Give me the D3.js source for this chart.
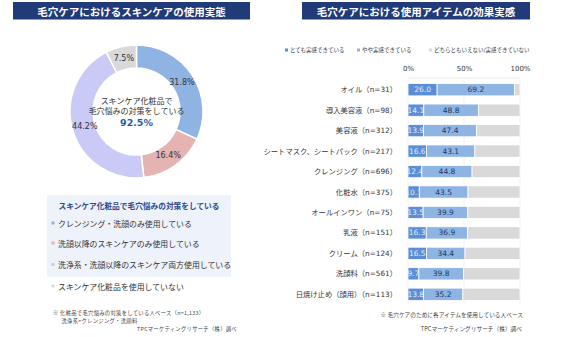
<!DOCTYPE html>
<html><head><meta charset="utf-8">
<script src="https://cdn.jsdelivr.net/npm/d3@7"></script>
<style>body{margin:0;background:#fff}svg{display:block}</style>
</head><body>
<svg id="c" width="580" height="337"></svg>
<script>
// ---- data ----
const leftTitle = "毛穴ケアにおけるスキンケアの使用実態";
const rightTitle = "毛穴ケアにおける使用アイテムの効果実感";
const pieCats = ["クレンジング・洗顔のみ使用している","洗顔以降のスキンケアのみ使用している","洗浄系・洗顔以降のスキンケア両方使用している","スキンケア化粧品を使用していない"];
const pieVals = [31.8,16.4,44.2,7.5];
const pieColors = ["#8fb4e3","#e6b3b3","#cacaf6","#d9d9d9"];
const centerText = ["スキンケア化粧品で","毛穴悩みの対策をしている","92.5%"];
const legendBoxTitle = "スキンケア化粧品で毛穴悩みの対策をしている";
const leftNotes = ["※ 化粧品で毛穴悩みの対策をしている人ベース（n=1,133）","洗浄系=クレンジング・洗顔料","TPCマーケティングリサーチ（株）調べ"];

const items = ["オイル（n=31）","導入美容液（n=98）","美容液（n=312）","シートマスク、シートパック（n=217）","クレンジング（n=696）","化粧水（n=375）","オールインワン（n=75）","乳液（n=151）","クリーム（n=124）","洗顔料（n=561）","日焼け止め（顔用）（n=113）"];
const veryMuch = [26.0,14.1,13.9,16.6,12.4,10.1,13.5,16.3,16.5,9.7,13.8];
const somewhat = [69.2,48.8,47.4,43.1,44.8,43.5,39.9,36.9,34.4,39.8,35.2];
const barSeries = ["とても実感できている","やや実感できている","どちらともいえない/実感できていない"];
const barColors = ["#5b8ed6","#8db4e2","#d9d9d9"];
const xTicks = [0,50,100];
const rightNotes = ["※ 毛穴ケアのために各アイテムを使用している人ベース","TPCマーケティングリサーチ（株）調べ"];

const JP = "'Noto Sans CJK JP', sans-serif";
const NUM = "'DejaVu Sans', 'Noto Sans CJK JP', sans-serif";
const NAVY = "#213a78";

const svg = d3.select("#c");

// ---- titles ----
function titleBox(x0, x1, y0, y1, txt){
  svg.append("rect").attr("x",x0).attr("y",y0).attr("width",x1-x0).attr("height",y1-y0).attr("fill",NAVY);
  svg.append("text").attr("x",(x0+x1)/2).attr("y",(y0+y1)/2+0.5).attr("text-anchor","middle")
    .attr("dominant-baseline","central").attr("fill","#fff").attr("font-family",JP)
    .attr("font-weight","bold").attr("font-size",10.5).text(txt);
}
titleBox(13, 250, 2, 19.5, leftTitle);
titleBox(302, 530, 2, 19.5, rightTitle);

// ---- donut ----
const cx = 136.5, cy = 111.5, rOut = 66.5, rIn = 43.5;
const pie = d3.pie().sort(null).value(d=>d)(pieVals);
const arc = d3.arc().innerRadius(rIn).outerRadius(rOut);
const labelArc = d3.arc().innerRadius(54).outerRadius(54);
const g = svg.append("g").attr("transform",`translate(${cx},${cy})`);
g.selectAll("path").data(pie).join("path").attr("d",arc)
  .attr("fill",(d,i)=>pieColors[i]).attr("stroke","#fff").attr("stroke-width",1.5);
g.selectAll("text.pl").data(pie).join("text").attr("class","pl")
  .attr("transform",d=>`translate(${labelArc.centroid(d)})`)
  .attr("text-anchor","middle").attr("dominant-baseline","central")
  .attr("font-family",NUM).attr("font-size",8).attr("fill","#333")
  .text(d=>d3.format(".1f")(d.data)+"%");
g.append("text").attr("y",-11).attr("text-anchor","middle").attr("dominant-baseline","central")
  .attr("font-family",JP).attr("font-size",8).attr("fill","#333").text(centerText[0]);
g.append("text").attr("y",-1).attr("text-anchor","middle").attr("dominant-baseline","central")
  .attr("font-family",JP).attr("font-size",8).attr("fill","#333").text(centerText[1]);
g.append("text").attr("y",11).attr("text-anchor","middle").attr("dominant-baseline","central")
  .attr("font-family",NUM).attr("font-weight","bold").attr("font-size",9.5).attr("fill","#2e5aa0").text(centerText[2]);

// ---- left legend ----
svg.append("rect").attr("x",47).attr("y",195).attr("width",184).attr("height",82).attr("fill","#eef2fa");
svg.append("text").attr("x",139).attr("y",205.5).attr("text-anchor","middle").attr("dominant-baseline","central")
  .attr("font-family",JP).attr("font-weight","bold").attr("font-size",7.7).attr("fill","#2f4a8a").text(legendBoxTitle);
const legY = [223,243,264.5,286];
pieCats.forEach((c,i)=>{
  svg.append("rect").attr("x",51.5).attr("y",legY[i]-1.5).attr("width",3).attr("height",3).attr("fill",pieColors[i]);
  svg.append("text").attr("x",58).attr("y",legY[i]).attr("dominant-baseline","central")
    .attr("font-family",JP).attr("font-size",7.9).attr("fill","#333").text(c);
});
const lnX = [53,61.5,137], lnY = [313,321,329];
leftNotes.forEach((t,i)=>{
  svg.append("text").attr("x",lnX[i]).attr("y",lnY[i]).attr("dominant-baseline","central")
    .attr("font-family",JP).attr("font-size",5.3).attr("letter-spacing",0.3).attr("fill","#444").text(t);
});

// ---- right bar chart ----
const x = d3.scaleLinear().domain([0,100]).range([408,520]);
const y = d3.scaleBand().domain(items).range([79.5,304.5]).paddingInner(0.4).paddingOuter(0.2);
const rows = items.map((it,i)=>{
  const a = veryMuch[i], b = somewhat[i];
  return {it, segs:[[0,a,a],[a,a+b,b],[a+b,100,null]]};
});
// gridlines
const grid = svg.append("g");
grid.append("line").attr("x1",x(0)).attr("x2",x(100)).attr("y1",78).attr("y2",78).attr("stroke","#e4e4e4").attr("stroke-width",0.8);
xTicks.forEach(t=>{
  grid.append("line").attr("x1",x(t)).attr("x2",x(t)).attr("y1",78).attr("y2",305).attr("stroke","#ececec").attr("stroke-width",0.8);
});
// axis labels
const ax = d3.axisTop(x).tickValues(xTicks).tickFormat(d=>d+"%").tickSize(0);
const axG = svg.append("g").attr("transform","translate(0,74)").call(ax);
axG.select(".domain").remove();
axG.selectAll("text").attr("font-family",NUM).attr("font-size",7).attr("fill","#333");

const rg = svg.append("g");
rows.forEach((r,i)=>{
  const yy = y(r.it), h = y.bandwidth();
  r.segs.forEach((s,k)=>{
    rg.append("rect").attr("x",x(s[0])).attr("y",yy).attr("width",x(s[1])-x(s[0])).attr("height",h)
      .attr("fill",barColors[k]).attr("stroke","#fff").attr("stroke-width",0.8);
    if(s[2]!==null){
      rg.append("text").attr("x",(x(s[0])+x(s[1]))/2).attr("y",yy+h/2).attr("text-anchor","middle")
        .attr("dominant-baseline","central").attr("font-family",NUM).attr("font-size",7.5)
        .attr("fill",k===0?"#e3ecf8":"#1f3864").text(d3.format(".1f")(s[2]));
    }
  });
  rg.append("text").attr("x",397).attr("y",yy+h/2).attr("text-anchor","end").attr("dominant-baseline","central")
    .attr("font-family",NUM).attr("font-size",7.3).attr("fill","#333").text(r.it);
});
// legend
const lgX = [286,358,430];
barSeries.forEach((s,i)=>{
  svg.append("rect").attr("x",lgX[i]-1).attr("y",48.5).attr("width",3).attr("height",3).attr("fill",barColors[i]);
  svg.append("text").attr("x",lgX[i]+4).attr("y",50).attr("dominant-baseline","central")
    .attr("font-family",JP).attr("font-size",5.5).attr("fill","#333").text(s);
});
svg.append("text").attr("x",523).attr("y",314).attr("text-anchor","end").attr("dominant-baseline","central")
  .attr("font-family",JP).attr("font-size",5.7).attr("fill","#444").text(rightNotes[0]);
svg.append("text").attr("x",522).attr("y",328.5).attr("text-anchor","end").attr("dominant-baseline","central")
  .attr("font-family",JP).attr("font-size",5.7).attr("fill","#444").text(rightNotes[1]);
</script>
</body></html>
